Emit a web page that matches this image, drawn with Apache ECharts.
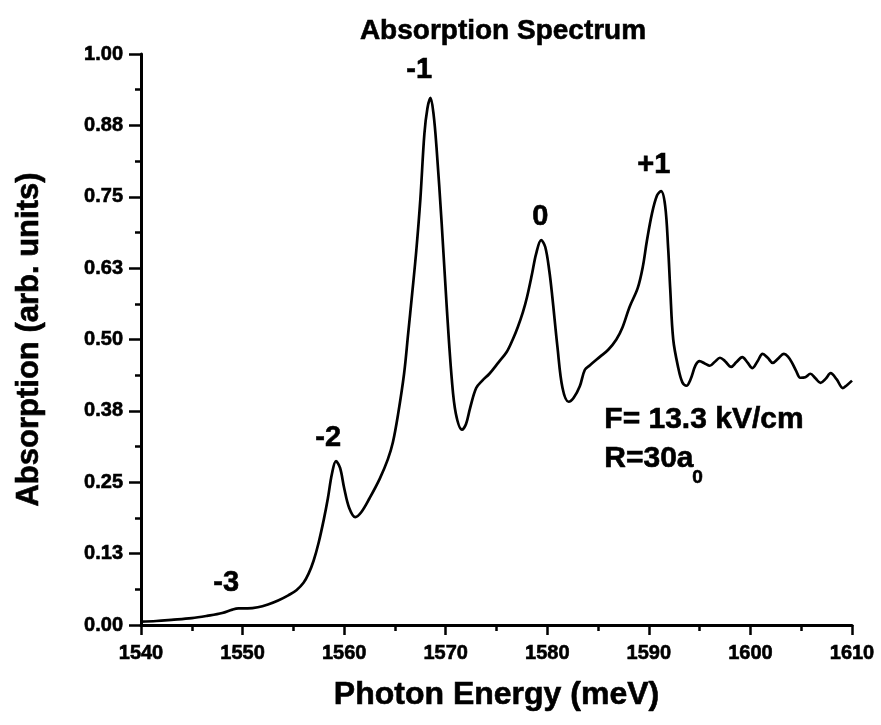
<!DOCTYPE html>
<html>
<head>
<meta charset="utf-8">
<script src="https://cdn.jsdelivr.net/npm/echarts@6/dist/echarts.min.js"></script>
<style>
html,body{margin:0;padding:0;background:#fff;}
#chart{width:881px;height:725px;}
</style>
</head>
<body>
<div id="chart"></div>
<script>
// Photon energy (meV)
const energy = [
1540.0,1541.5,1543.0,1545.0,1546.5,1548.0,1549.0,1549.6,1550.5,1551.5,
1552.5,1553.5,1554.5,1555.3,1556.0,1556.5,1557.0,1557.5,1558.0,1558.4,
1558.8,1559.2,1559.6,1560.0,1560.5,1561.1,1561.7,1562.5,1563.5,1564.3,
1564.8,1565.3,1565.9,1566.3,1566.7,1567.1,1567.5,1567.9,1568.2,1568.5,
1568.8,1569.1,1569.6,1570.1,1570.6,1571.0,1571.6,1572.0,1572.4,1573.0,
1573.6,1574.3,1575.2,1576.0,1576.6,1577.1,1577.6,1578.0,1578.5,1578.9,
1579.4,1579.8,1580.2,1580.5,1581.0,1581.5,1582.1,1582.6,1583.2,1583.7,
1584.2,1585.2,1586.0,1586.8,1587.4,1588.1,1588.9,1589.4,1589.8,1590.3,
1590.8,1591.2,1591.6,1591.9,1592.1,1592.4,1592.9,1593.3,1593.7,1594.1,
1594.6,1595.0,1595.5,1596.0,1596.5,1597.0,1597.5,1598.1,1598.6,1599.2,
1599.7,1600.2,1600.7,1601.2,1601.7,1602.2,1602.7,1603.3,1603.7,1604.1,
1604.5,1604.9,1605.4,1605.9,1606.4,1606.9,1607.4,1607.9,1608.5,1609.1,
1609.5,1610.0
];
// Absorption (arb. units)
const absorption = [
0.006,0.007,0.009,0.012,0.016,0.021,0.027,0.029,0.029,0.031,
0.036,0.043,0.052,0.061,0.074,0.090,0.113,0.145,0.185,0.222,
0.265,0.287,0.275,0.240,0.205,0.189,0.198,0.222,0.256,0.290,
0.320,0.368,0.440,0.510,0.581,0.655,0.745,0.860,0.905,0.923,
0.895,0.835,0.704,0.557,0.430,0.370,0.342,0.352,0.380,0.415,
0.428,0.440,0.460,0.478,0.500,0.522,0.548,0.574,0.615,0.650,
0.674,0.662,0.620,0.574,0.487,0.415,0.391,0.398,0.418,0.447,
0.455,0.470,0.482,0.500,0.521,0.557,0.590,0.627,0.672,0.720,
0.752,0.760,0.735,0.660,0.590,0.500,0.450,0.425,0.419,0.430,
0.455,0.462,0.458,0.454,0.461,0.468,0.462,0.452,0.460,0.469,
0.460,0.450,0.462,0.475,0.468,0.459,0.466,0.475,0.470,0.459,
0.445,0.433,0.434,0.440,0.432,0.424,0.431,0.441,0.430,0.415,
0.420,0.428
];
const xTickLabels = ['1540','1550','1560','1570','1580','1590','1600','1610'];
const yTickLabels = ['0.00','0.13','0.25','0.38','0.50','0.63','0.75','0.88','1.00'];
const peakLabels = ['-3','-2','-1','0','+1'];

const FONT = '"Liberation Sans", Arial, sans-serif';
const chart = echarts.init(document.getElementById('chart'), null, {renderer:'canvas'});
const seriesData = energy.map((e,i)=>[e, absorption[i]]);

const axisLineStyle = {color:'#000', width:3};
const heavy = {textBorderColor:'#000', textBorderWidth:0.6};
const labelStyle = Object.assign({color:'#000', fontFamily:FONT, fontWeight:'bold', fontSize:20}, heavy);
const bigText = Object.assign({fontFamily:FONT, fontWeight:'bold', color:'#000'}, heavy);

function gText(text, size, left, top){
  return {type:'text', left:left, top:top, style:{text:text, font:'bold '+size+'px '+FONT, fill:'#000', stroke:'#000', lineWidth:0.6}};
}

chart.setOption({
  animation:false,
  backgroundColor:'#fff',
  title:{
    text:'Absorption Spectrum',
    left:498, top:12, textAlign:'center',
    textStyle:Object.assign({fontSize:28}, bigText)
  },
  grid:{left:141, right:29, top:54, bottom:100, containLabel:false},
  xAxis:{
    type:'value', min:1540, max:1610, interval:10,
    name:'Photon Energy (meV)', nameLocation:'middle', nameGap:54,
    nameTextStyle:Object.assign({fontSize:32}, bigText),
    axisLine:{show:true, onZero:false, lineStyle:axisLineStyle},
    axisTick:{show:true, inside:false, length:10, lineStyle:{color:'#000', width:2.5}},
    minorTick:{show:true, splitNumber:2, length:6, lineStyle:{color:'#000', width:2.5}},
    splitLine:{show:false},
    axisLabel:Object.assign({margin:18, formatter:v=>xTickLabels[Math.round((v-1540)/10)]}, labelStyle)
  },
  yAxis:{
    type:'value', min:0, max:1, interval:0.125,
    name:'Absorption (arb. units)', nameLocation:'middle', nameGap:96,
    nameTextStyle:Object.assign({fontSize:31}, bigText),
    axisLine:{show:true, onZero:false, lineStyle:axisLineStyle},
    axisTick:{show:true, inside:false, length:12, lineStyle:{color:'#000', width:2.5}},
    minorTick:{show:true, splitNumber:2, length:6, lineStyle:{color:'#000', width:2.5}},
    splitLine:{show:false},
    axisLabel:Object.assign({margin:18, formatter:v=>yTickLabels[Math.round(v/0.125)]}, labelStyle)
  },
  series:[{
    type:'line', data:seriesData, showSymbol:false, smooth:0.35,
    lineStyle:{color:'#000', width:2.7}, silent:true
  }],
  graphic:[
    gText(peakLabels[0], 29, 213, 568),
    gText(peakLabels[1], 29, 315, 423),
    gText(peakLabels[2], 29, 406, 55),
    gText(peakLabels[3], 29, 532, 202),
    gText(peakLabels[4], 29, 637, 150),
    gText('F= 13.3 kV/cm', 30, 604, 404),
    gText('R=30a', 30, 604, 443),
    gText('0', 19, 692, 468)
  ]
});
</script>
</body>
</html>
